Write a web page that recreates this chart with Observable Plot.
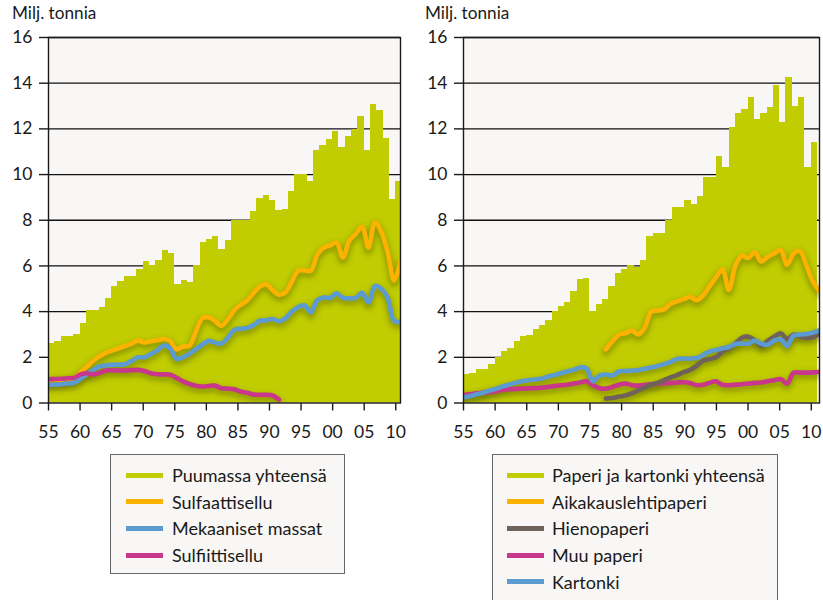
<!DOCTYPE html>
<html><head><meta charset="utf-8">
<script src="https://cdn.jsdelivr.net/npm/d3@7"></script>
<script src="https://cdn.jsdelivr.net/npm/@observablehq/plot@0.6"></script>
<style>
html,body{margin:0;padding:0;background:#fff;}
body{width:823px;height:600px;position:relative;overflow:hidden;font-family:Lato,"Open Sans",sans-serif;color:#1a1a1a;}
.panel{position:absolute;top:0;}
.unit{position:absolute;top:3px;font-size:17.2px;line-height:20px;white-space:nowrap;}
.legend{position:absolute;top:454px;border:1px solid #666;background:#f8f7f5;box-sizing:border-box;}
.row{position:absolute;height:22px;display:flex;align-items:center;font-size:18px;white-space:nowrap;}
.sw{position:absolute;width:37px;height:5px;}
</style></head><body>
<div id="left" class="panel" style="left:0"></div>
<div id="right" class="panel" style="left:411px"></div>
<div class="unit" style="left:12px">Milj. tonnia</div>
<div class="unit" style="left:425px">Milj. tonnia</div>
<div id="legL" class="legend" style="left:110px;width:235px;height:120px"></div>
<div id="legR" class="legend" style="left:492px;width:286px;height:160px"></div>
<script>
// ---- categories ----
const years = d3.range(1955, 2011);
const xTicks = d3.range(1955, 2011, 5);
const yTicks = d3.range(0, 17, 2);

// ---- left panel (pulp), million tonnes ----
const puumassaYhteensa = [
  2.61,2.70,2.90,2.90,3.02,3.49,4.04,4.04,4.18,4.56,
  5.09,5.32,5.54,5.54,5.84,6.18,6.00,6.25,6.66,6.56,
  5.20,5.38,5.28,6.00,7.02,7.17,7.30,6.70,7.10,8.00,
  8.00,8.00,8.40,8.96,9.10,8.87,8.44,8.46,9.28,10.00,
  10.00,9.69,11.06,11.29,11.54,11.90,11.17,11.68,11.97,12.55,
  11.07,13.06,12.80,11.60,8.90,9.69];
const sulfaattisellu = [
  1.00,1.00,1.02,1.05,1.10,1.35,1.60,1.85,2.05,2.20,
  2.30,2.40,2.50,2.60,2.73,2.65,2.70,2.75,2.80,2.72,
  2.35,2.47,2.50,3.10,3.70,3.75,3.60,3.38,3.65,4.05,
  4.30,4.48,4.80,5.10,5.20,4.95,4.74,4.84,5.30,5.79,
  5.80,5.79,6.50,6.80,6.90,7.02,6.37,7.10,7.40,7.71,
  6.80,7.90,7.50,6.60,5.35,6.22];
const mekaanisetMassat = [
  0.80,0.80,0.82,0.85,0.88,1.05,1.25,1.45,1.60,1.65,
  1.67,1.68,1.70,1.85,2.00,2.00,2.15,2.30,2.52,2.40,
  1.93,2.00,2.15,2.35,2.55,2.72,2.65,2.60,2.85,3.20,
  3.25,3.28,3.40,3.60,3.62,3.68,3.58,3.70,4.00,4.20,
  4.27,3.97,4.50,4.62,4.60,4.80,4.60,4.58,4.60,4.82,
  4.40,5.12,5.00,4.60,3.60,3.55];
const sulfiittisellu = [ // 1955-1991
  1.04,1.05,1.06,1.08,1.10,1.25,1.30,1.25,1.32,1.42,
  1.43,1.42,1.42,1.44,1.45,1.40,1.30,1.26,1.25,1.24,
  1.10,0.95,0.84,0.75,0.72,0.74,0.76,0.65,0.63,0.60,
  0.50,0.45,0.37,0.36,0.36,0.33,0.15];

// ---- right panel (paper & board), million tonnes ----
const paperiJaKartonki = [
  1.24,1.30,1.45,1.47,1.68,2.00,2.26,2.40,2.69,2.90,
  2.95,3.20,3.40,3.60,4.00,4.21,4.40,4.90,5.42,5.47,
  4.01,4.30,4.55,5.09,5.67,5.85,6.00,5.93,6.25,7.27,
  7.40,7.40,7.97,8.58,8.58,8.87,8.67,9.06,9.87,9.87,
  10.81,10.33,12.05,12.66,12.85,13.38,12.40,12.67,12.93,13.91,
  12.29,14.26,12.99,13.38,10.33,11.42];
const aikakauslehtipaperi = [ // 1977-2010
  2.35,2.70,3.00,3.05,3.17,3.00,3.30,4.00,
  4.05,4.10,4.35,4.45,4.55,4.65,4.50,4.70,5.10,5.50,
  5.85,4.95,6.00,6.45,6.35,6.60,6.20,6.40,6.55,6.70,
  6.05,6.55,6.65,6.00,5.30,4.90];
const hienopaperi = [ // 1977-2010
  0.20,0.22,0.28,0.33,0.42,0.55,0.68,0.80,
  0.88,1.00,1.12,1.22,1.35,1.45,1.62,1.85,1.92,2.00,
  2.25,2.40,2.60,2.85,2.90,2.75,2.50,2.72,2.90,3.05,
  2.80,3.00,2.90,2.85,2.88,3.05];
const muuPaperi = [
  0.35,0.38,0.42,0.45,0.47,0.52,0.57,0.60,0.62,0.63,
  0.64,0.65,0.67,0.70,0.74,0.77,0.80,0.85,0.90,0.95,
  0.78,0.65,0.63,0.70,0.80,0.85,0.78,0.76,0.80,0.82,
  0.85,0.87,0.88,0.90,0.91,0.88,0.78,0.80,0.88,0.95,
  0.80,0.78,0.80,0.82,0.85,0.88,0.90,0.95,1.00,1.05,
  0.85,1.32,1.33,1.33,1.34,1.36];
const kartonki = [
  0.25,0.30,0.38,0.45,0.55,0.62,0.72,0.80,0.88,0.95,
  1.00,1.03,1.06,1.15,1.22,1.30,1.38,1.45,1.55,1.52,
  0.95,1.20,1.25,1.20,1.38,1.40,1.42,1.44,1.50,1.55,
  1.62,1.70,1.80,1.93,1.95,1.95,1.97,2.10,2.25,2.32,
  2.40,2.45,2.58,2.60,2.60,2.73,2.60,2.55,2.73,2.78,
  2.50,2.95,3.00,3.02,3.08,3.18];

// ---- names & colours ----
const leftNames = ["Puumassa yhteensä","Sulfaattisellu","Mekaaniset massat","Sulfiittisellu"];
const rightNames = ["Paperi ja kartonki yhteensä","Aikakauslehtipaperi","Hienopaperi","Muu paperi","Kartonki"];
const cBar = "#c1cd00", cOrange = "#fcb200", cBlue = "#5b9bd1", cMagenta = "#c8378c", cBrown = "#6e625b";
const leftColors = [cBar, cOrange, cBlue, cMagenta];
const rightColors = [cBar, cOrange, cBrown, cMagenta, cBlue];

const SHADOW = "#3f4700";

function panel({width, marginLeft, marginRight, xEnd, total, series}) {
  const bars = years.map((y, i) => ({year: y, value: total[i]}));
  const k = (xEnd - 1955) / (2010 - 1955);
  const rows = series.map(s => s.values.map((v, i) => ({year: s.start + i, value: v})));
  const lx = d => 1955 + (d.year - 1955) * k;
  const marks = [
    Plot.frame({fill: "#f8f7f5", stroke: null}),
    Plot.ruleY(yTicks.filter(t => t > 0), {stroke: "#111", strokeWidth: 1.3}),
    Plot.rect(bars, {x1: "year", x2: d => d.year + 1, y1: 0, y2: "value", fill: cBar, clip: true, shapeRendering: "crispEdges"})
  ];
  rows.forEach(r => marks.push(Plot.line(r, {x: lx, y: "value", stroke: SHADOW, strokeWidth: 8, strokeOpacity: 0.33, dy: 3, curve: "catmull-rom", clip: true})));
  rows.forEach((r, i) => marks.push(Plot.line(r, {x: lx, y: "value", stroke: series[i].color, strokeWidth: 4.6, curve: "catmull-rom", clip: true})));
  marks.push(Plot.frame({stroke: "#1a1a1a", strokeWidth: 1.4}));
  const svg = Plot.plot({
    width, height: 445, marginLeft, marginRight, marginTop: 37, marginBottom: 42.5,
    style: {fontFamily: "Lato, 'Open Sans', sans-serif", fontSize: "17.5px", color: "#1a1a1a", background: "transparent", overflow: "visible"},
    x: {domain: [1955, xEnd], ticks: xTicks, tickFormat: d => String(d % 100).padStart(2, "0"), tickSize: 8, tickPadding: 14.3, label: null},
    y: {domain: [0, 16], ticks: yTicks, tickSize: 9, tickPadding: 7, label: null},
    marks
  });
  const s = d3.select(svg);
  s.insert("defs", ":first-child").append("filter").attr("id", "blur" + marginLeft)
    .attr("x", "-10%").attr("y", "-50%").attr("width", "120%").attr("height", "200%")
    .append("feGaussianBlur").attr("stdDeviation", 2.6);
  s.selectAll(`g[stroke="${SHADOW}"]`).attr("filter", `url(#blur${marginLeft})`);
  s.selectAll("g[aria-label='y-axis tick'], g[aria-label='x-axis tick']").attr("stroke-width", 1.4);
  return svg;
}

document.getElementById("left").append(panel({
  width: 411, marginLeft: 48, marginRight: 11, xEnd: 2010.75, total: puumassaYhteensa,
  series: [
    {values: sulfaattisellu, start: 1955, color: cOrange},
    {values: mekaanisetMassat, start: 1955, color: cBlue},
    {values: sulfiittisellu, start: 1955, color: cMagenta}
  ]
}));
document.getElementById("right").append(panel({
  width: 412, marginLeft: 52, marginRight: 4, xEnd: 2011.3, total: paperiJaKartonki,
  series: [
    {values: muuPaperi, start: 1955, color: cMagenta},
    {values: hienopaperi, start: 1977, color: cBrown},
    {values: kartonki, start: 1955, color: cBlue},
    {values: aikakauslehtipaperi, start: 1977, color: cOrange}
  ]
}));

function legend(id, names, colors, swX, textX) {
  const box = document.getElementById(id);
  const centers = [20.3, 46.7, 73.3, 100.0, 126.7];
  names.forEach((n, i) => {
    const sw = document.createElement("div");
    sw.className = "sw";
    sw.style.left = swX + "px";
    sw.style.top = (centers[i] - 2.5) + "px";
    sw.style.background = colors[i];
    box.appendChild(sw);
    const t = document.createElement("div");
    t.className = "row";
    t.style.left = textX + "px";
    t.style.top = (centers[i] - 11) + "px";
    t.textContent = n;
    box.appendChild(t);
  });
}
legend("legL", leftNames, leftColors, 15, 61);
legend("legR", rightNames, rightColors, 14, 59);
</script>
</body></html>
